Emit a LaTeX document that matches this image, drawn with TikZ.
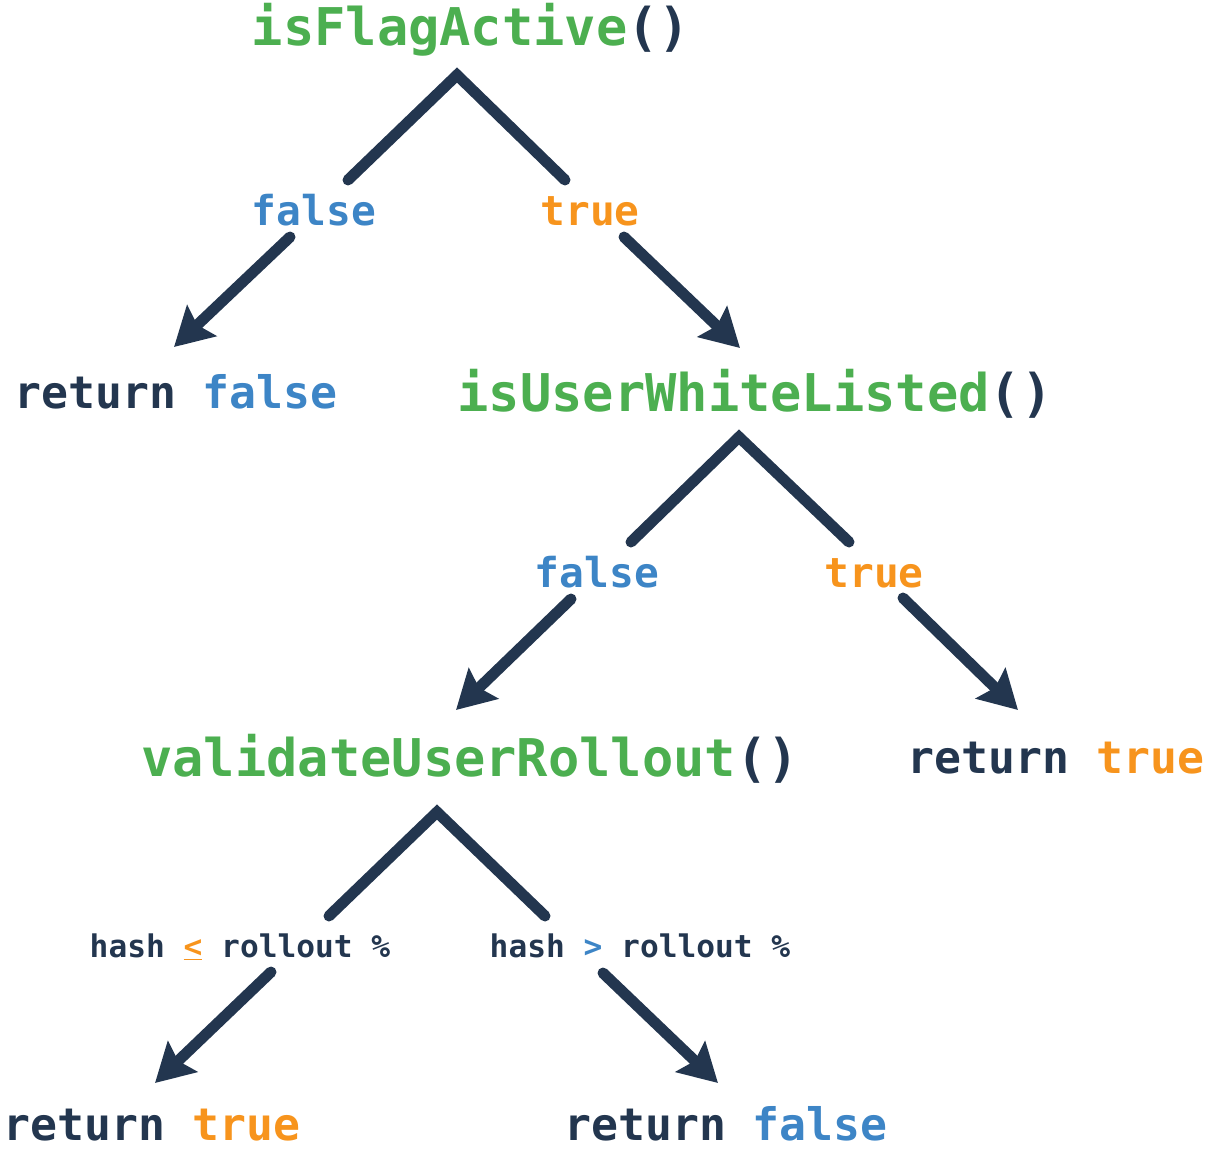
\documentclass[tikz,border=0pt]{standalone}
\usepackage{fontspec}
\setmonofont{DejaVu Sans Mono}
\usetikzlibrary{arrows.meta}
\definecolor{navy}{RGB}{35,54,79}
\definecolor{fgreen}{RGB}{76,175,80}
\definecolor{fblue}{RGB}{61,133,198}
\definecolor{forange}{RGB}{247,148,29}
\tikzset{
  fn/.style={anchor=base, inner sep=0pt, text=navy, font=\fontsize{26}{30}\selectfont\ttfamily\bfseries},
  lbl/.style={anchor=base, inner sep=0pt, font=\fontsize{20.6}{24}\selectfont\ttfamily\bfseries},
  ret/.style={anchor=base, inner sep=0pt, text=navy, font=\fontsize{22.4}{26}\selectfont\ttfamily\bfseries},
  cond/.style={anchor=base, inner sep=0pt, text=navy, font=\fontsize{15.6}{18}\selectfont\ttfamily\bfseries},
  edge/.style={navy, line width=5.5pt, line cap=round, line join=miter},
  arr/.style={edge, -{Stealth[length=19pt, width=21pt, inset=3pt]}}
}
\begin{document}
\begin{tikzpicture}[x=0.5pt, y=-0.5pt]
  \useasboundingbox (0,0) rectangle (1208,1155);

  % first check
  \node[fn] (flag) at (471,46) {\textcolor{fgreen}{isFlagActive}()};
  \coordinate (flag-top) at (457,75);
  \coordinate (flag-l) at (348,180);
  \coordinate (flag-r) at (565,180);
  \draw[edge] (flag-l) -- (flag-top) -- (flag-r);
  \node[lbl, text=fblue] (flag-no) at (314,226) {false};
  \node[lbl, text=forange] (flag-yes) at (590,226) {true};
  \coordinate (flag-nos) at (290,237);
  \coordinate (flag-not) at (174,347);
  \coordinate (flag-yess) at (624,237);
  \coordinate (flag-yest) at (740,348);
  \draw[arr] (flag-nos) -- (flag-not);
  \draw[arr] (flag-yess) -- (flag-yest);
  \node[ret] (ret1) at (176,408) {return \textcolor{fblue}{false}};

  % second check
  \node[fn] (white) at (755,411) {\textcolor{fgreen}{isUserWhiteListed}()};
  \coordinate (white-top) at (739,437);
  \coordinate (white-l) at (631,542);
  \coordinate (white-r) at (849,542);
  \draw[edge] (white-l) -- (white-top) -- (white-r);
  \node[lbl, text=fblue] (white-no) at (597,587) {false};
  \node[lbl, text=forange] (white-yes) at (874,587) {true};
  \coordinate (white-nos) at (571,599);
  \coordinate (white-not) at (456,710);
  \coordinate (white-yess) at (903,598);
  \coordinate (white-yest) at (1018,710);
  \draw[arr] (white-nos) -- (white-not);
  \draw[arr] (white-yess) -- (white-yest);
  \node[ret] (ret2) at (1056,773) {return \textcolor{forange}{true}};

  % rollout check
  \node[fn] (roll) at (470,776) {\textcolor{fgreen}{validateUserRollout}()};
  \coordinate (roll-top) at (437,812);
  \coordinate (roll-l) at (329,916);
  \coordinate (roll-r) at (545,916);
  \draw[edge] (roll-l) -- (roll-top) -- (roll-r);
  \node[cond] (roll-in) at (240,957) {hash \textcolor{forange}{\underline{<}} rollout \%};
  \node[cond] (roll-out) at (640,957) {hash \textcolor{fblue}{>} rollout \%};
  \coordinate (roll-ins) at (271,972);
  \coordinate (roll-int) at (155,1083);
  \coordinate (roll-outs) at (603,973);
  \coordinate (roll-outt) at (718,1083);
  \draw[arr] (roll-ins) -- (roll-int);
  \draw[arr] (roll-outs) -- (roll-outt);
  \node[ret] (ret3) at (152,1140) {return \textcolor{forange}{true}};
  \node[ret] (ret4) at (726,1140) {return \textcolor{fblue}{false}};
\end{tikzpicture}
\end{document}
